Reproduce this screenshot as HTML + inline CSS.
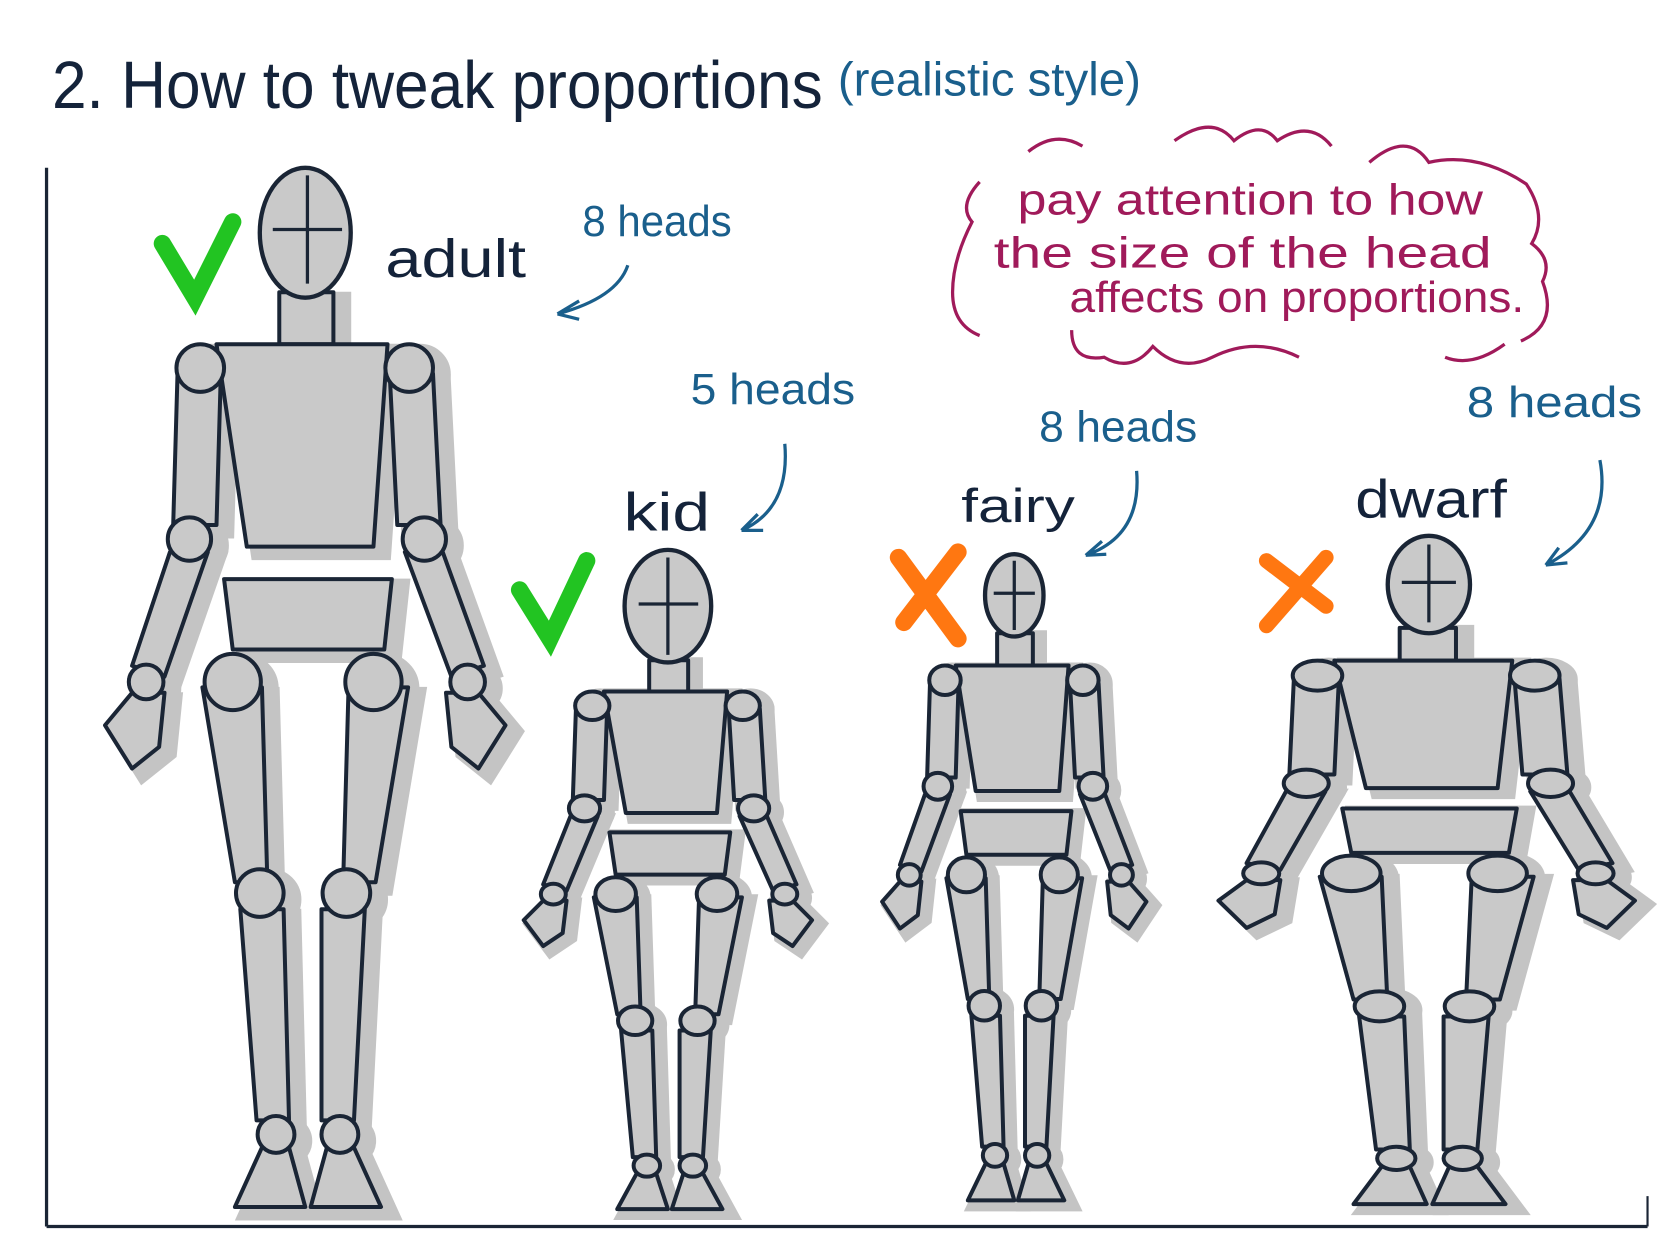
<!DOCTYPE html>
<html><head><meta charset="utf-8"><style>
html,body{margin:0;padding:0;background:#fff;width:1680px;height:1260px;overflow:hidden}
svg{display:block}
</style></head><body>
<svg width="1680" height="1260" viewBox="0 0 1552 1164" preserveAspectRatio="none" xmlns="http://www.w3.org/2000/svg">
<defs>
<g id="body">
 <rect x="-24" y="0" width="50" height="48"/>
 <polygon points="-118,75 -78,75 -82,215 -122,215"/>
 <polygon points="78,75 118,75 125,215 85,215"/>
 <polygon points="-125,240 -90,240 -130,355 -160,345"/>
 <polygon points="92,240 127,240 165,345 135,355"/>
 <polygon points="-160,370 -130,370 -135,420 -160,440 -185,400"/>
 <polygon points="160,370 130,370 135,420 160,440 185,400"/>
 <polygon points="-95,365 -40,365 -35,545 -65,545"/>
 <polygon points="40,365 95,365 65,545 35,545"/>
 <polygon points="-60,570 -20,570 -15,765 -45,765"/>
 <polygon points="15,570 55,570 45,765 15,765"/>
 <polygon points="-40,790 -15,790 0,845 -65,845"/>
 <polygon points="20,790 45,790 70,845 5,845"/>
 <polygon points="-82,48 76,48 63,235 -54,235"/>
 <polygon points="-75,265 80,265 73,330 -67,330"/>
 <circle cx="-97" cy="70" r="22"/><circle cx="96" cy="70" r="22"/>
 <circle cx="-107" cy="228" r="20"/><circle cx="110" cy="228" r="20"/>
 <circle cx="-147" cy="360" r="16"/><circle cx="150" cy="360" r="16"/>
 <circle cx="-67" cy="360" r="26"/><circle cx="63" cy="360" r="26"/>
 <circle cx="-42" cy="555" r="22"/><circle cx="38" cy="555" r="22"/>
 <circle cx="-27" cy="778" r="17"/><circle cx="32" cy="778" r="17"/>
</g>
<g id="fig">
 <use href="#body" transform="translate(10,6)" fill="#c4c4c4" stroke="#c4c4c4" stroke-width="14"/>
 <use href="#body" fill="#c9c9c9" stroke="#1a2535" stroke-width="4" stroke-linejoin="round"/>
</g>
</defs>
<style>
#body *{vector-effect:non-scaling-stroke}
.hd{fill:#c9c9c9;stroke:#1a2535;stroke-width:4}
.t{font-family:"Liberation Sans Narrow","Liberation Sans",sans-serif}
</style>
<line x1="43" y1="155" x2="43" y2="1133" stroke="#1a2535" stroke-width="3"/>
<line x1="43" y1="1133" x2="1522" y2="1133" stroke="#1a2535" stroke-width="3"/>
<line x1="1522" y1="1105" x2="1522" y2="1133" stroke="#1a2535" stroke-width="2"/>
<text class="t" x="48" y="100" font-size="62" fill="#14233a" textLength="712" lengthAdjust="spacingAndGlyphs">2. How to tweak  proportions</text>
<text class="t" x="774" y="88" font-size="44" fill="#1a5f8c" textLength="280" lengthAdjust="spacingAndGlyphs">(realistic style)</text>

<g transform="translate(282,270)"><use href="#fig"/></g>
<ellipse class="hd" cx="282" cy="215" rx="42" ry="60"/>
<line x1="284" y1="162" x2="284" y2="262" stroke="#1a2535" stroke-width="3"/><line x1="252" y1="212" x2="316" y2="212" stroke="#1a2535" stroke-width="3"/>
<g transform="translate(617,610) scale(0.72,0.6)"><use href="#fig"/></g>
<ellipse class="hd" cx="617" cy="560" rx="40" ry="52"/>
<line x1="617" y1="515" x2="617" y2="605" stroke="#1a2535" stroke-width="3"/><line x1="590" y1="558" x2="645" y2="558" stroke="#1a2535" stroke-width="3"/>
<g transform="translate(937,585) scale(0.66,0.62)"><use href="#fig"/></g>
<ellipse class="hd" cx="937" cy="550" rx="27" ry="38"/>
<line x1="937" y1="518" x2="937" y2="582" stroke="#1a2535" stroke-width="3"/><line x1="918" y1="548" x2="956" y2="548" stroke="#1a2535" stroke-width="3"/>
<g transform="translate(1318,580) scale(1.04,0.63)"><use href="#fig"/></g>
<ellipse class="hd" cx="1320" cy="540" rx="38" ry="45"/>
<line x1="1320" y1="503" x2="1320" y2="575" stroke="#1a2535" stroke-width="3"/><line x1="1295" y1="538" x2="1345" y2="538" stroke="#1a2535" stroke-width="3"/>

<path d="M150,225 L180,275 L215,205" fill="none" stroke="#22c422" stroke-width="16" stroke-linecap="round"/>
<path d="M480,545 L508,590 L542,518" fill="none" stroke="#22c422" stroke-width="16" stroke-linecap="round"/>
<path d="M830,515 L885,590 M885,510 L835,575" fill="none" stroke="#ff7711" stroke-width="16" stroke-linecap="round"/>
<path d="M1170,518 L1225,560 M1225,515 L1170,578" fill="none" stroke="#ff7711" stroke-width="14" stroke-linecap="round"/>

<text class="t" x="356" y="256" font-size="50" fill="#14233a" textLength="130" lengthAdjust="spacingAndGlyphs">adult</text>
<text class="t" x="576" y="490" font-size="50" fill="#14233a" textLength="80" lengthAdjust="spacingAndGlyphs">kid</text>
<text class="t" x="888" y="482" font-size="44" fill="#14233a" textLength="105" lengthAdjust="spacingAndGlyphs">fairy</text>
<text class="t" x="1252" y="478" font-size="50" fill="#14233a" textLength="140" lengthAdjust="spacingAndGlyphs">dwarf</text>
<g fill="none" stroke="#1a5f8c" stroke-width="3">
<text class="t" x="538" y="218" font-size="40" fill="#1a5f8c" stroke="none" textLength="138" lengthAdjust="spacingAndGlyphs">8 heads</text>
<path d="M580,245 Q570,275 515,290 M515,290 L535,278 M515,290 L535,295"/>
<text class="t" x="638" y="373" font-size="40" fill="#1a5f8c" stroke="none" textLength="152" lengthAdjust="spacingAndGlyphs">5 heads</text>
<path d="M725,410 Q730,470 685,490 M685,490 L700,475 M685,490 L705,490"/>
<text class="t" x="960" y="408" font-size="40" fill="#1a5f8c" stroke="none" textLength="146" lengthAdjust="spacingAndGlyphs">8 heads</text>
<path d="M1050,435 Q1055,495 1003,513 M1003,513 L1018,500 M1003,513 L1022,512"/>
<text class="t" x="1355" y="385" font-size="40" fill="#1a5f8c" stroke="none" textLength="162" lengthAdjust="spacingAndGlyphs">8 heads</text>
<path d="M1478,425 Q1490,490 1428,522 M1428,522 L1440,506 M1428,522 L1448,520"/>
</g>
<g fill="none" stroke="#a01a5a" stroke-width="3">
<path d="M905,168 Q885,190 898,205 Q880,240 880,270 Q880,300 905,310"/>
<path d="M950,140 Q975,120 1000,135 M1085,130 Q1120,105 1140,130 Q1165,110 1180,130 Q1210,110 1230,135 M1265,150 Q1300,120 1320,150 Q1365,140 1410,170 Q1430,200 1415,225 Q1435,240 1425,260 Q1440,300 1405,315"/>
<path d="M990,305 Q990,335 1020,330 Q1045,345 1065,320 Q1090,345 1120,330 Q1160,310 1200,330 M1335,330 Q1360,340 1390,318"/>
</g>
<g class="t" fill="#a01a5a" font-size="40">
<text x="940" y="198" textLength="430" lengthAdjust="spacingAndGlyphs">pay attention to how</text>
<text x="918" y="247" textLength="460" lengthAdjust="spacingAndGlyphs">the size of the head</text>
<text x="988" y="288" textLength="420" lengthAdjust="spacingAndGlyphs">affects on proportions.</text>
</g>
</svg>
</body></html>
